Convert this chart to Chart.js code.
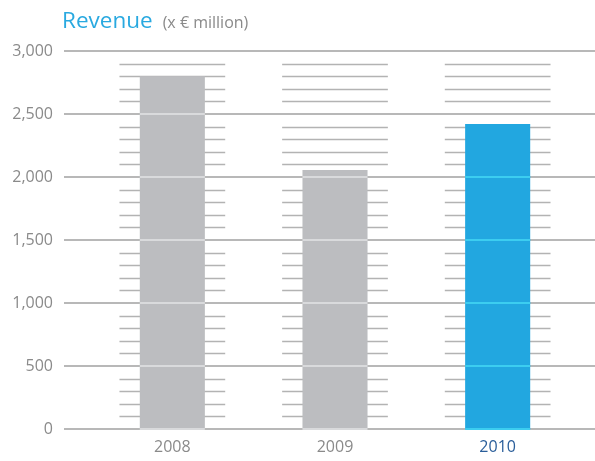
<!DOCTYPE html>
<html>
<head>
<meta charset="utf-8">
<script src="https://cdn.jsdelivr.net/npm/chart.js@4/dist/chart.umd.min.js"></script>
<style>
  html, body { margin:0; padding:0; background:#fff; }
  #wrap { width:595px; height:461px; position:relative; }
</style>
</head>
<body>
<div id="wrap"><canvas id="rev" width="595" height="461"></canvas></div>
<script>
// ── data ─────────────────────────────────────────────
const years   = ["2008", "2009", "2010"];
const revenue = [2800, 2055, 2420];
const yMax    = 3000;
const yStep   = 500;   // labelled lines
const yMinor  = 100;   // short lines beside the bars

// ── look ─────────────────────────────────────────────
const FONT      = "'Open Sans', sans-serif";
const GREY_TXT  = "#8a8a8a";
const BAR_FILL  = ["#bcbdc0", "#bcbdc0", "#22a7e0"];
const BAR_LINE  = ["#d9dadc", "#d9dadc", "#3ccdf0"];
const TICK_TXT  = [GREY_TXT, GREY_TXT, "#2a5e9a"];

const gridLines = {
  id: "gridLines",
  beforeDatasetsDraw(chart) {
    const { ctx, scales: { x, y } } = chart;
    const slot = (x.right - x.left) / years.length;
    ctx.save();
    // short lines every 100, per category
    ctx.strokeStyle = "#b3b3b3";
    ctx.lineWidth = 1.3;
    for (let i = 0; i < years.length; i++) {
      const cx = x.getPixelForValue(i), half = slot * 0.65 / 2;
      for (let v = yMinor; v < yMax; v += yMinor) {
        if (v % yStep === 0) continue;
        const py = Math.round(y.getPixelForValue(v)) + 0.5;
        ctx.beginPath(); ctx.moveTo(cx - half, py); ctx.lineTo(cx + half, py); ctx.stroke();
      }
    }
    // long lines every 500
    ctx.strokeStyle = "#b8b8b8";
    ctx.lineWidth = 2;
    for (let v = 0; v <= yMax; v += yStep) {
      const py = Math.round(y.getPixelForValue(v));
      ctx.beginPath(); ctx.moveTo(64, py); ctx.lineTo(chart.width, py); ctx.stroke();
    }
    ctx.restore();
  },
  afterDatasetsDraw(chart) {
    const { ctx, scales: { y } } = chart;
    const bars = chart.getDatasetMeta(0).data;
    ctx.save();
    ctx.lineWidth = 2;
    bars.forEach((b, i) => {
      ctx.strokeStyle = BAR_LINE[i];
      for (let v = 0; v <= yMax; v += yStep) {
        const py = Math.round(y.getPixelForValue(v));
        if (py < b.y) continue;
        ctx.beginPath(); ctx.moveTo(b.x - b.width / 2, py); ctx.lineTo(b.x + b.width / 2, py); ctx.stroke();
      }
    });
    ctx.restore();
  },
  afterDraw(chart) {
    const ctx = chart.ctx;
    ctx.save();
    ctx.textBaseline = "alphabetic";
    ctx.textAlign = "left";
    ctx.font = "22.5px " + FONT;
    ctx.fillStyle = "#29a9e0";
    ctx.fillText("Revenue", 62, 28);
    const w = ctx.measureText("Revenue").width;
    ctx.font = "16px " + FONT;
    ctx.fillStyle = GREY_TXT;
    ctx.fillText("(x € million)", 62 + w + 10, 28);
    ctx.restore();
  }
};

new Chart(document.getElementById("rev"), {
  type: "bar",
  data: {
    labels: years,
    datasets: [{
      data: revenue,
      backgroundColor: BAR_FILL,
      borderWidth: 0,
      barPercentage: 0.8,
      categoryPercentage: 0.5,
    }],
  },
  options: {
    responsive: false,
    animation: false,
    events: [],
    layout: { padding: { top: 51, right: 16, left: 0, bottom: 0 } },
    plugins: { legend: { display: false }, tooltip: { enabled: false }, title: { display: false } },
    scales: {
      x: {
        grid: { display: false, drawTicks: false },
        border: { display: false },
        ticks: { padding: 9, font: { family: FONT, size: 16 }, color: c => TICK_TXT[c.index] },
        afterFit: s => { s.height = 32; },
      },
      y: {
        min: 0, max: yMax,
        grid: { display: false, drawTicks: false },
        border: { display: false },
        ticks: { stepSize: yStep, padding: 38, font: { family: FONT, size: 16 }, color: GREY_TXT,
                 callback: v => v.toLocaleString("en-US") },
        afterFit: s => { s.width = 91; s.paddingTop = 0; s.paddingBottom = 0; },
      },
    },
  },
  plugins: [gridLines],
});
</script>
</body>
</html>
